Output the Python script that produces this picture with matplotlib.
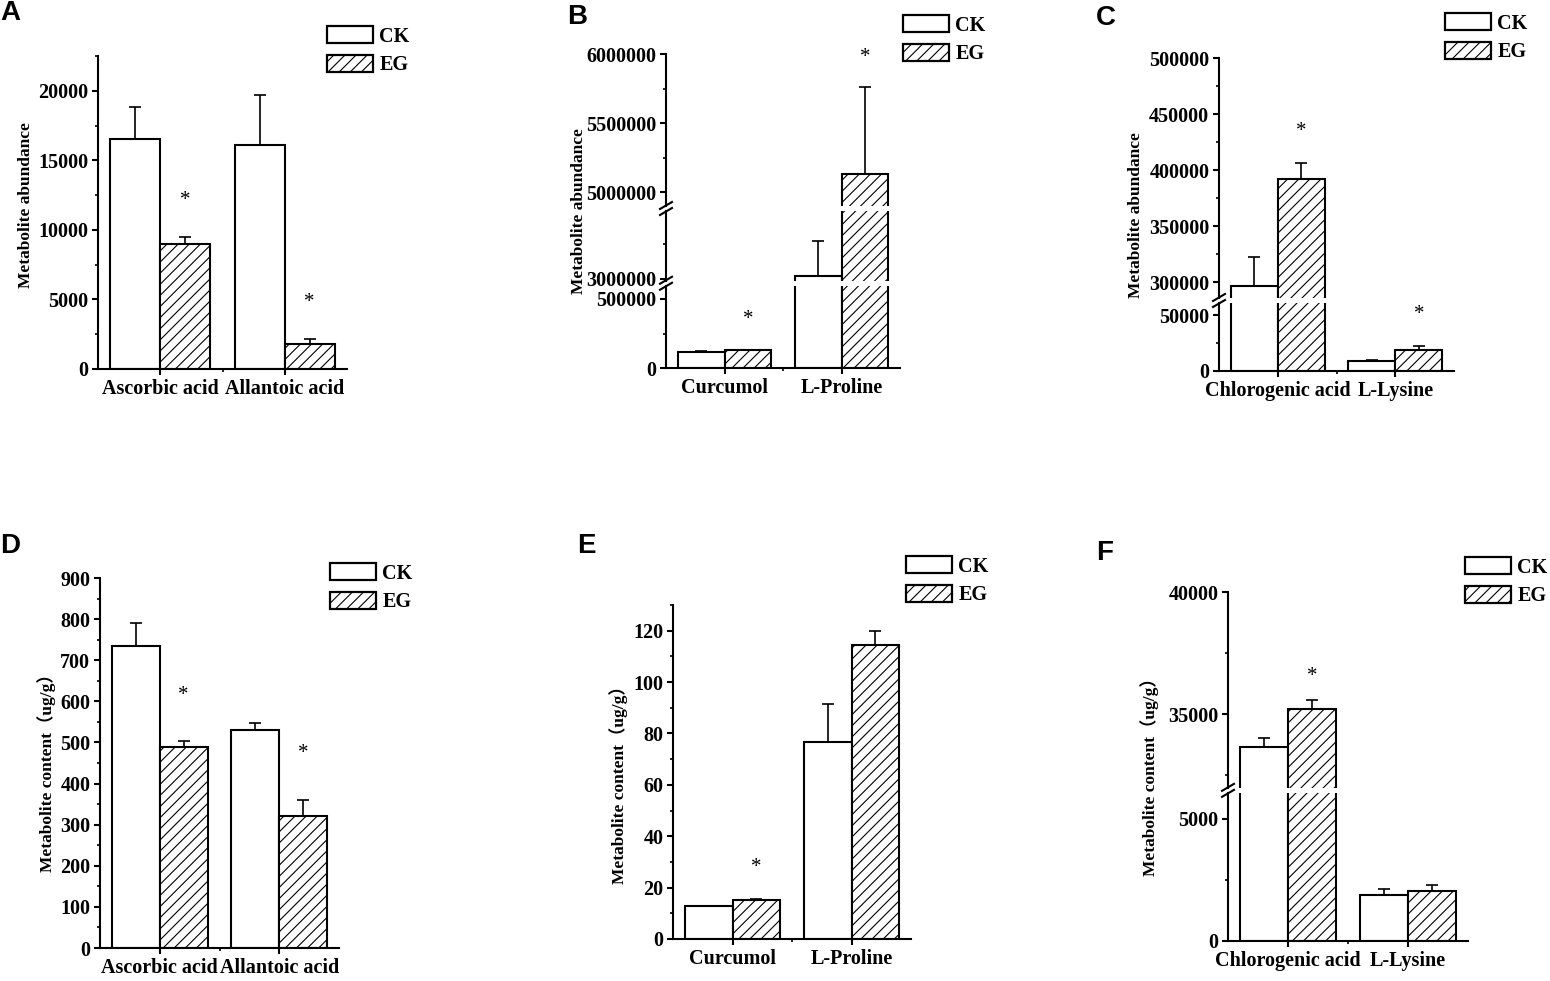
import numpy as np
import matplotlib
matplotlib.use("Agg")
import matplotlib.pyplot as plt
from matplotlib.patches import Patch
from matplotlib.lines import Line2D
from matplotlib.ticker import MultipleLocator, StrMethodFormatter

# ---- data ----
a_categories = ["Ascorbic acid", "Allantoic acid"]
a_ck = [16500, 16100]
a_ck_err = [2350, 3600]
a_eg = [8950, 1800]
a_eg_err = [550, 360]
a_sig = [True, True]

b_categories = ["Curcumol", "L-Proline"]
b_ck = [120000, 3020000]
b_ck_err = [3000, 250000]
b_eg = [130000, 5130000]
b_eg_err = [4000, 630000]
b_sig = [True, True]

c_categories = ["Chlorogenic acid", "L-Lysine"]
c_ck = [296500, 9000]
c_ck_err = [26500, 600]
c_eg = [392500, 19000]
c_eg_err = [13500, 3300]
c_sig = [True, True]

d_categories = ["Ascorbic acid", "Allantoic acid"]
d_ck = [735, 530]
d_ck_err = [55, 18]
d_eg = [488, 322]
d_eg_err = [15, 39]
d_sig = [True, True]

e_categories = ["Curcumol", "L-Proline"]
e_ck = [12.8, 76.5]
e_ck_err = [0.2, 14.8]
e_eg = [15.3, 114.3]
e_eg_err = [0.3, 5.4]
e_sig = [True, False]

f_categories = ["Chlorogenic acid", "L-Lysine"]
f_ck = [33650, 1880]
f_ck_err = [380, 230]
f_eg = [35230, 2040]
f_eg_err = [350, 250]
f_sig = [True, False]

group_labels = ["CK", "EG"]
ylabel_abund = "Metabolite abundance"
ylabel_content = "Metabolite content（ug/g）"

# ---- figure ----
W, H = 1550, 981
plt.rcParams["font.family"] = ["Liberation Serif", "Noto Sans CJK SC"]
plt.rcParams["font.weight"] = "bold"
plt.rcParams["hatch.linewidth"] = 0.8
fig = plt.figure(figsize=(W / 100, H / 100), dpi=100)


def px_rect(x0, x1, y_bot, y_top):
    return [x0 / W, 1 - y_bot / H, (x1 - x0) / W, (y_bot - y_top) / H]


def style_axis(ax, major, minor, show_x):
    for s in ["top", "right"]:
        ax.spines[s].set_visible(False)
    ax.spines["left"].set_linewidth(1.5)
    ax.spines["bottom"].set_linewidth(1.5)
    ax.yaxis.set_major_locator(MultipleLocator(major))
    ax.yaxis.set_minor_locator(MultipleLocator(minor))
    ax.yaxis.set_major_formatter(StrMethodFormatter("{x:.0f}"))
    ax.tick_params(axis="both", which="major", direction="out", length=4,
                   width=1.5, labelsize=14.5, pad=3)
    ax.tick_params(axis="both", which="minor", direction="out", length=2.5,
                   width=1.2)
    ax.set_xlim(0.5, 2.5)
    if show_x:
        ax.set_xticks([1, 2])
        ax.set_xticks([1.5], minor=True)
    else:
        ax.spines["bottom"].set_visible(False)
        ax.set_xticks([])
        ax.set_xticks([], minor=True)


def draw_bars(ax, ck, ck_err, eg, eg_err):
    x = np.arange(1, len(ck) + 1)
    ax.bar(x - 0.2, ck, 0.4, color="white", edgecolor="black", linewidth=1.5)
    ax.bar(x + 0.2, eg, 0.4, color="white", edgecolor="black", linewidth=1.5,
           hatch="///")
    zeros = np.zeros(len(ck))
    ax.errorbar(x - 0.2, ck, yerr=[zeros, ck_err], fmt="none", ecolor="black",
                elinewidth=1.2, capsize=4, capthick=1.2)
    ax.errorbar(x + 0.2, eg, yerr=[zeros, eg_err], fmt="none", ecolor="black",
                elinewidth=1.2, capsize=4, capthick=1.2)


def add_stars(axes, eg, eg_err, sig, offset_px):
    for i, (v, e, s) in enumerate(zip(eg, eg_err, sig)):
        if not s:
            continue
        top = v + e
        ax = axes[0]
        for a in axes:
            lo, hi = a.get_ylim()
            if lo <= top <= hi:
                ax = a
        ax.annotate("*", xy=(i + 1.2, top), xytext=(0, offset_px * 0.72),
                    textcoords="offset points", ha="center", va="center",
                    fontsize=15, fontweight="normal", annotation_clip=False)


def add_legend(ax, x, y):
    handles = [Patch(facecolor="white", edgecolor="black", linewidth=1.6),
               Patch(facecolor="white", edgecolor="black", linewidth=1.6,
                     hatch="///")]
    ax.legend(handles, group_labels, loc="upper left",
              bbox_to_anchor=(x / W, 1 - y / H), bbox_transform=fig.transFigure,
              frameon=False, fontsize=14.5, handlelength=2.3, handleheight=0.95,
              labelspacing=0.4, handletextpad=0.3, borderpad=0, borderaxespad=0)


def break_marks(x, y):
    for dy in (-3, 3):
        xs = [(x - 6) / W, (x + 6) / W]
        ys = [1 - (y + dy + 3.5) / H, 1 - (y + dy - 3.5) / H]
        fig.add_artist(Line2D(xs, ys, color="black", linewidth=1.5,
                              transform=fig.transFigure))


def panel(x0, x1, segments, ylims, major, minor, cats, ck, ck_err, eg, eg_err,
          sig, star_px, legend_xy):
    axes = []
    for k, ((yb, yt), lim) in enumerate(zip(segments, ylims)):
        ax = fig.add_axes(px_rect(x0, x1, yb, yt))
        ax.set_ylim(*lim)
        style_axis(ax, major, minor, show_x=(k == 0))
        draw_bars(ax, ck, ck_err, eg, eg_err)
        ax.set_ylim(*lim)
        ax.set_xlim(0.5, 2.5)
        axes.append(ax)
    axes[0].set_xticklabels(cats)
    for k in range(1, len(segments)):
        yc = (segments[k - 1][1] + segments[k][0]) / 2
        break_marks(x0, yc)
    add_stars(axes, eg, eg_err, sig, star_px)
    add_legend(axes[-1], *legend_xy)
    return axes


# A
panel(98, 347, [(369, 56)], [(0, 22500)], 5000, 2500, a_categories,
      a_ck, a_ck_err, a_eg, a_eg_err, a_sig, 36, (327, 26))
# B
panel(666, 900, [(368.3, 285.5), (281, 211), (206, 54)],
      [(0, 595000), (2985000, 3490000), (4900000, 6000000)], 500000, 250000,
      b_categories, b_ck, b_ck_err, b_eg, b_eg_err, b_sig, 30, (903, 15))
# C
panel(1219, 1454, [(371, 303), (298, 58)], [(0, 61000), (286000, 500000)],
      50000, 25000, c_categories, c_ck, c_ck_err, c_eg, c_eg_err, c_sig, 32,
      (1445, 13))
# D
panel(100, 339, [(948, 578)], [(0, 900)], 100, 50, d_categories,
      d_ck, d_ck_err, d_eg, d_eg_err, d_sig, 46, (330, 563))
# E
panel(673, 911, [(939, 605)], [(0, 130)], 20, 10, e_categories,
      e_ck, e_ck_err, e_eg, e_eg_err, e_sig, 31, (906, 556))
# F
panel(1228, 1468, [(941, 793), (787.7, 592)], [(0, 6050), (32000, 40000)],
      5000, 2500, f_categories, f_ck, f_ck_err, f_eg, f_eg_err, f_sig, 24,
      (1465, 557))

# y labels
for (x, y, txt) in [(26, 205, ylabel_abund), (579, 211, ylabel_abund),
                    (1136, 215, ylabel_abund), (47, 769, ylabel_content),
                    (619, 781, ylabel_content), (1150, 773, ylabel_content)]:
    fig.text(x / W, 1 - y / H, txt, rotation=90, ha="center", va="center",
             fontsize=12.5, fontweight="bold")

# panel letters
for (x, y, letter) in [(0, 0, "A"), (567, 4, "B"), (1096, 5, "C"),
                       (0, 533, "D"), (577, 533, "E"), (1096, 540, "F")]:
    fig.text(x / W, 1 - y / H, letter, ha="left", va="top", fontsize=20,
             fontweight="bold", family="Liberation Sans")

fig.savefig("out.png", dpi=100)
